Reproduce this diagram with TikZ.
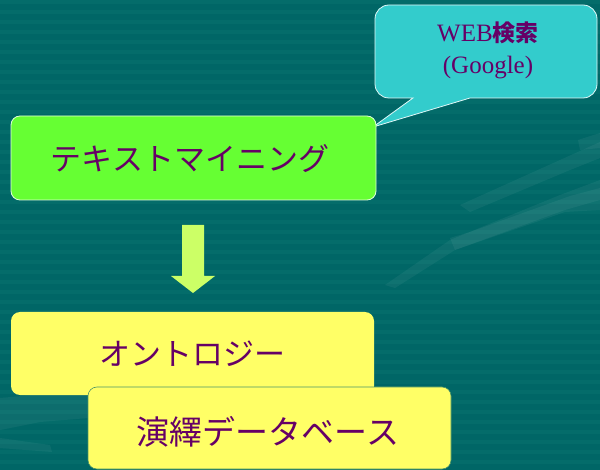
\documentclass[tikz,border=0pt]{standalone}
\usepackage{fontspec}
\setmainfont{Liberation Serif}
\newfontfamily\jp{Noto Sans CJK JP}
\definecolor{bgteal}{RGB}{0,102,102}
\definecolor{bgstripe}{RGB}{4,108,106}
\definecolor{boxgreen}{RGB}{102,255,51}
\definecolor{boxyellow}{RGB}{255,255,102}
\definecolor{calloutcyan}{RGB}{51,204,204}
\definecolor{txtpurple}{RGB}{102,0,102}
\definecolor{arrowlime}{RGB}{204,255,102}
\tikzset{
  mainbox/.style={rounded corners=9pt, inner sep=0pt, text=txtpurple},
  boxtext/.style={text=txtpurple, inner sep=0pt},
  swoosh/.style={fill=white, fill opacity=0.05, draw=none},
}
\begin{document}
\begin{tikzpicture}[x=1pt,y=-1pt]
\useasboundingbox (0,0) rectangle (600,470);
% background
\fill[bgteal] (0,0) rectangle (600,470);
\foreach \yy in {0,10,...,460} {
  \fill[bgstripe] (0,\yy) rectangle (600,\yy+4);
}
% decorative swooshes
\fill[swoosh] (385,285) -- (450,240) -- (560,195) -- (600,180) -- (600,200) -- (565,210) -- (455,250) -- (395,288) -- cycle;
\fill[swoosh] (450,238) -- (470,232) -- (570,196) -- (600,188) -- (600,210) -- (565,212) -- (455,250) -- cycle;
\fill[swoosh] (460,205) -- (560,160) -- (600,142) -- (600,158) -- (570,170) -- (470,212) -- cycle;
\fill[swoosh] (578,140) -- (600,133) -- (600,148) -- (580,150) -- cycle;
\fill[swoosh] (0,398) -- (88,390) -- (88,418) -- (40,422) -- (0,430) -- cycle;
\fill[swoosh] (0,438) -- (50,445) -- (52,452) -- (0,448) -- cycle;
% callout
\filldraw[fill=calloutcyan, draw=white!85!calloutcyan, line width=0.8pt]
  (373,127) -- (413,98) [rounded corners=14pt] -- (375,98) -- (375,5) -- (597,5) -- (597,98) [sharp corners] -- (470,98) -- cycle;
\node (web) at (488,50) [boxtext, align=center, font=\fontsize{25}{32}\selectfont]
  {WEB{\jp\bfseries\fontsize{23}{32}\selectfont 検索}\\(Google)};
% green box
\node (mining) at (193.5,158) [mainbox, fill=boxgreen, draw=white!80!boxgreen, line width=0.8pt,
  minimum width=365pt, minimum height=84pt] {};
\node (miningtext) at (190,159) [boxtext, font=\jp\fontsize{31}{34}\selectfont] {テキストマイニング};
% arrow
\fill[arrowlime] (182,225) -- (204,225) -- (204,276) -- (215,276) -- (193,293) -- (171,276) -- (182,276) -- cycle;
% ontology box
\node (onto) at (192.5,353.5) [mainbox, fill=boxyellow, minimum width=363pt, minimum height=83pt] {};
\node (ontotext) at (192,354) [boxtext, font=\jp\fontsize{31}{34}\selectfont] {オントロジー};
% deductive DB box
\node (ddb) at (269.5,428) [mainbox, fill=boxyellow, draw=bgteal!70!boxyellow, line width=0.6pt,
  minimum width=363pt, minimum height=82pt] {};
\node (ddbtext) at (268,432) [boxtext, font=\jp\fontsize{33}{36}\selectfont] {演繹データベース};
\end{tikzpicture}
\end{document}
